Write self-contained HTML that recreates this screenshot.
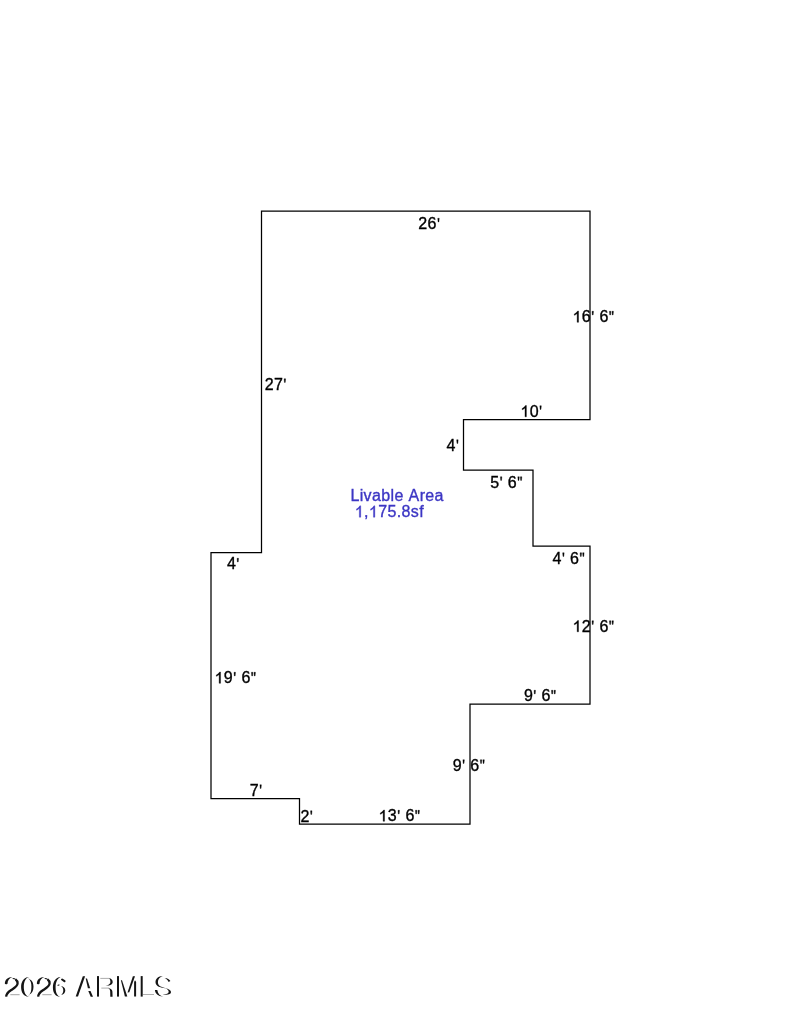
<!DOCTYPE html>
<html><head><meta charset="utf-8"><style>
html,body{margin:0;padding:0;background:#fff;}
svg{display:block;filter:brightness(1);}
text{font-family:"Liberation Sans",sans-serif;}
</style></head><body>
<svg width="800" height="1034" viewBox="0 0 800 1034">
<rect width="800" height="1034" fill="#fff"/>
<polygon points="261.5,211 590,211 590,419.5 463.5,419.5 463.5,470 533,470 533,546 590,546 590,704 470,704 470,824 299.5,824 299.5,798.5 211,798.5 211,552.5 261.5,552.5" fill="none" stroke="#000" stroke-width="1.25"/>
<g fill="#000" stroke="#000" stroke-width="0.35"><text x="418.35 427.62" y="229.30" font-size="16">26</text><path transform="translate(436.902 229.300) scale(0.007812 -0.007812)" d="M110 1409L300 1409L255 946L150 946Z" stroke-width="44.8"/></g>
<g fill="#000" stroke="#000" stroke-width="0.35"><text x="581.87 599.41" y="322.30" font-size="16">66</text><path transform="translate(572.589 322.300) scale(0.007812 -0.007812)" d="M763 0L583 0L583 1130C540 1080 482 1023 411 984C340 944 276 914 219 894L219 1061C320 1106 408 1161 483 1245C558 1320 611 1400 642 1450L763 1450Z" stroke-width="44.8"/><path transform="translate(591.146 322.300) scale(0.007812 -0.007812)" d="M110 1409L300 1409L255 946L150 946Z" stroke-width="44.8"/><path transform="translate(608.684 322.300) scale(0.007812 -0.007812)" d="M95 1409L285 1409L240 946L135 946ZM420 1409L610 1409L565 946L460 946Z" stroke-width="44.8"/></g>
<g fill="#000" stroke="#000" stroke-width="0.35"><text x="264.70 273.97" y="389.80" font-size="16">27</text><path transform="translate(283.252 389.800) scale(0.007812 -0.007812)" d="M110 1409L300 1409L255 946L150 946Z" stroke-width="44.8"/></g>
<g fill="#000" stroke="#000" stroke-width="0.35"><text x="529.72" y="416.80" font-size="16">0</text><path transform="translate(520.439 416.800) scale(0.007812 -0.007812)" d="M763 0L583 0L583 1130C540 1080 482 1023 411 984C340 944 276 914 219 894L219 1061C320 1106 408 1161 483 1245C558 1320 611 1400 642 1450L763 1450Z" stroke-width="44.8"/><path transform="translate(538.996 416.800) scale(0.007812 -0.007812)" d="M110 1409L300 1409L255 946L150 946Z" stroke-width="44.8"/></g>
<g fill="#000" stroke="#000" stroke-width="0.35"><text x="446.53" y="450.80" font-size="16">4</text><path transform="translate(455.811 450.800) scale(0.007812 -0.007812)" d="M110 1409L300 1409L255 946L150 946Z" stroke-width="44.8"/></g>
<g fill="#000" stroke="#000" stroke-width="0.35"><text x="490.26 507.80" y="487.80" font-size="16">56</text><path transform="translate(499.538 487.800) scale(0.007812 -0.007812)" d="M110 1409L300 1409L255 946L150 946Z" stroke-width="44.8"/><path transform="translate(517.076 487.800) scale(0.007812 -0.007812)" d="M95 1409L285 1409L240 946L135 946ZM420 1409L610 1409L565 946L460 946Z" stroke-width="44.8"/></g>
<g fill="#3c36c4" stroke="#3c36c4" stroke-width="0.35"><text x="350.39 359.67 363.60 371.98 381.26 390.54 394.47 408.58 419.63 425.34 434.61" y="500.70" font-size="16">LivableArea</text></g>
<g fill="#3c36c4" stroke="#3c36c4" stroke-width="0.35"><text x="364.07 378.17 387.45 396.73 401.55 410.83 419.21" y="517.20" font-size="16">,75.8sf</text><path transform="translate(354.789 517.200) scale(0.007812 -0.007812)" d="M763 0L583 0L583 1130C540 1080 482 1023 411 984C340 944 276 914 219 894L219 1061C320 1106 408 1161 483 1245C558 1320 611 1400 642 1450L763 1450Z" stroke-width="44.8"/><path transform="translate(368.893 517.200) scale(0.007812 -0.007812)" d="M763 0L583 0L583 1130C540 1080 482 1023 411 984C340 944 276 914 219 894L219 1061C320 1106 408 1161 483 1245C558 1320 611 1400 642 1450L763 1450Z" stroke-width="44.8"/></g>
<g fill="#000" stroke="#000" stroke-width="0.35"><text x="226.93" y="569.30" font-size="16">4</text><path transform="translate(236.211 569.300) scale(0.007812 -0.007812)" d="M110 1409L300 1409L255 946L150 946Z" stroke-width="44.8"/></g>
<g fill="#000" stroke="#000" stroke-width="0.35"><text x="552.53 570.07" y="563.80" font-size="16">46</text><path transform="translate(561.811 563.800) scale(0.007812 -0.007812)" d="M110 1409L300 1409L255 946L150 946Z" stroke-width="44.8"/><path transform="translate(579.350 563.800) scale(0.007812 -0.007812)" d="M95 1409L285 1409L240 946L135 946ZM420 1409L610 1409L565 946L460 946Z" stroke-width="44.8"/></g>
<g fill="#000" stroke="#000" stroke-width="0.35"><text x="581.87 599.41" y="631.80" font-size="16">26</text><path transform="translate(572.589 631.800) scale(0.007812 -0.007812)" d="M763 0L583 0L583 1130C540 1080 482 1023 411 984C340 944 276 914 219 894L219 1061C320 1106 408 1161 483 1245C558 1320 611 1400 642 1450L763 1450Z" stroke-width="44.8"/><path transform="translate(591.146 631.800) scale(0.007812 -0.007812)" d="M110 1409L300 1409L255 946L150 946Z" stroke-width="44.8"/><path transform="translate(608.684 631.800) scale(0.007812 -0.007812)" d="M95 1409L285 1409L240 946L135 946ZM420 1409L610 1409L565 946L460 946Z" stroke-width="44.8"/></g>
<g fill="#000" stroke="#000" stroke-width="0.35"><text x="223.87 241.41" y="683.30" font-size="16">96</text><path transform="translate(214.589 683.300) scale(0.007812 -0.007812)" d="M763 0L583 0L583 1130C540 1080 482 1023 411 984C340 944 276 914 219 894L219 1061C320 1106 408 1161 483 1245C558 1320 611 1400 642 1450L763 1450Z" stroke-width="44.8"/><path transform="translate(233.146 683.300) scale(0.007812 -0.007812)" d="M110 1409L300 1409L255 946L150 946Z" stroke-width="44.8"/><path transform="translate(250.684 683.300) scale(0.007812 -0.007812)" d="M95 1409L285 1409L240 946L135 946ZM420 1409L610 1409L565 946L460 946Z" stroke-width="44.8"/></g>
<g fill="#000" stroke="#000" stroke-width="0.35"><text x="523.90 541.44" y="701.30" font-size="16">96</text><path transform="translate(533.178 701.300) scale(0.007812 -0.007812)" d="M110 1409L300 1409L255 946L150 946Z" stroke-width="44.8"/><path transform="translate(550.717 701.300) scale(0.007812 -0.007812)" d="M95 1409L285 1409L240 946L135 946ZM420 1409L610 1409L565 946L460 946Z" stroke-width="44.8"/></g>
<g fill="#000" stroke="#000" stroke-width="0.35"><text x="452.75 470.29" y="770.80" font-size="16">96</text><path transform="translate(462.028 770.800) scale(0.007812 -0.007812)" d="M110 1409L300 1409L255 946L150 946Z" stroke-width="44.8"/><path transform="translate(479.567 770.800) scale(0.007812 -0.007812)" d="M95 1409L285 1409L240 946L135 946ZM420 1409L610 1409L565 946L460 946Z" stroke-width="44.8"/></g>
<g fill="#000" stroke="#000" stroke-width="0.35"><text x="249.78" y="795.80" font-size="16">7</text><path transform="translate(259.058 795.800) scale(0.007812 -0.007812)" d="M110 1409L300 1409L255 946L150 946Z" stroke-width="44.8"/></g>
<g fill="#000" stroke="#000" stroke-width="0.35"><text x="300.40" y="821.80" font-size="16">2</text><path transform="translate(309.674 821.800) scale(0.007812 -0.007812)" d="M110 1409L300 1409L255 946L150 946Z" stroke-width="44.8"/></g>
<g fill="#000" stroke="#000" stroke-width="0.35"><text x="387.87 405.41" y="821.30" font-size="16">36</text><path transform="translate(378.589 821.300) scale(0.007812 -0.007812)" d="M763 0L583 0L583 1130C540 1080 482 1023 411 984C340 944 276 914 219 894L219 1061C320 1106 408 1161 483 1245C558 1320 611 1400 642 1450L763 1450Z" stroke-width="44.8"/><path transform="translate(397.146 821.300) scale(0.007812 -0.007812)" d="M110 1409L300 1409L255 946L150 946Z" stroke-width="44.8"/><path transform="translate(414.684 821.300) scale(0.007812 -0.007812)" d="M95 1409L285 1409L240 946L135 946ZM420 1409L610 1409L565 946L460 946Z" stroke-width="44.8"/></g>
<g id="wm">
<g id="two">
<path d="M4.9,984.1 C4.6,980 7.6,977.2 12.5,977.1 C9.4,978.1 7.5,980.6 7.5,983.7 C6.8,984.3 5.6,984.4 4.9,984.1 Z" fill="#151515"/>
<path d="M12.7,978.5 C14,978.5 15.2,979 16,979.6" stroke="#151515" stroke-width="1.1" fill="none"/>
<path d="M15.6,979.5 C17,980.5 17.6,981.8 17.6,983.3 C17.6,986.5 14.2,988.2 10.9,990.2 C8.1,992 6.4,994 6.1,996.6" stroke="#151515" stroke-width="2.3" fill="none"/>
<path d="M10.3,994.7 L19.6,994.7" stroke="#666" stroke-width="0.6" fill="none"/>
</g>
<use href="#two" x="32" y="0"/>
<path d="M28.8,977.1 C23.6,977.5 21.1,982 21.1,987 C21.1,992.5 23.6,996.4 28.6,996.8 C25.6,995.9 23.8,992 23.8,987 C23.8,982 25.6,978.1 28.8,977.1 Z" fill="#151515"/>
<path d="M28.8,979.1 C32,979.9 33.5,983 33.5,986.8 C33.5,990.5 32,993.7 29.2,994.7 C30.9,993.2 31.4,990.2 31.4,986.8 C31.4,983.5 30.8,980.9 28.8,979.1 Z" fill="#151515"/>
<path d="M28.6,977.3 L28.9,979.1 M28.6,996.6 L29.2,994.6" stroke="#aaa" stroke-width="0.5" fill="none"/>
<path d="M60.6,977.1 C55.5,977.5 52.9,982 52.9,987.5 C52.9,993 55.5,996.5 60.1,996.8 C57.2,995.8 55.6,992.5 55.6,987.5 C55.6,982.5 57.3,978.5 60.6,977.1 Z" fill="#151515"/>
<path d="M62.1,979.5 L64.5,981.2" stroke="#151515" stroke-width="2.1" stroke-linecap="round" fill="none"/>
<path d="M60.8,986.1 C63.6,986.5 65.3,988.3 65.3,990.4 C65.3,992.6 63.6,994.4 60.9,995.0 C62.5,993.8 63.3,992.3 63.3,990.4 C63.3,988.6 62.5,987.1 60.8,986.1 Z" fill="#151515"/>
<path d="M57.6,985.6 L59.4,984.8" stroke="#222" stroke-width="1.1" fill="none"/>
</g>
<g fill="#151515" stroke="none">
<polygon points="82.8,976.2 85.1,976.2 78,996.6 75.7,996.6"/>
<polygon points="85.7,978.6 87.0,978.6 90.2,988.3 87.9,988.3"/>
<polygon points="88.3,991.0 90.5,991.0 93.0,996.7 90.7,996.7"/>
<rect x="97" y="976.1" width="2" height="20.5"/>
<rect x="117" y="976.1" width="2" height="20.5"/>
<polygon points="120.9,980.3 122.0,980.3 127.3,996.6 124.9,996.6"/>
<polygon points="132.9,976.2 135.0,976.2 129.3,992.3 127.5,992.6"/>
<polygon points="134.6,980.8 135.6,980.8 136.1,982.5 136.1,996.6 134.1,996.6 134.1,982.5"/>
<rect x="140.7" y="976.1" width="2" height="20.5"/>
</g>
<g fill="#151515" stroke="none">
<path d="M108.8,978.1 C111.3,978.6 112.7,980.1 112.7,982.0 C112.7,984.2 110.5,985.7 105.6,985.9 C108.9,985.1 110.4,983.8 110.4,982.0 C110.4,980.3 109.9,979 108.8,978.1 Z"/>
<path d="M108.2,987.9 C110.7,988.2 112.3,989.6 112.4,991.6 L112.6,996.7 L110.3,996.7 L110.2,991.8 C110.1,989.8 109.6,988.7 108.2,987.9 Z"/>
<path d="M162.8,976.1 C158.4,976.3 155.5,978.8 155.5,982.0 C155.5,985 157.8,986.6 161.2,987.4 L166.4,988.6 L160.6,986.5 C158.9,985.6 157.9,984 157.9,982 C157.9,979.2 159.8,977 162.8,976.1 Z"/>
<path d="M164.6,978.0 C167.4,978.2 169.6,979.4 170.4,981.1 L168.6,982.1 C167.9,980.3 166.7,979 164.6,978.0 Z"/>
<path d="M165.0,987.9 C168.7,988.6 171.0,990.2 171.0,992.1 C171.0,994.2 168.4,995.4 162.6,994.6 C166.5,994.4 168.7,993.5 168.7,991.8 C168.7,990.2 167.3,988.9 165.0,987.9 Z"/>
<path d="M154.9,990.1 C155.2,993.5 158.0,996.4 163.3,996.7 C159.8,995.9 157.9,993.8 157.3,990.1 Z"/>
</g>
<g fill="none">
<path d="M100.3,978.4 L109.2,978.4 M101.3,988.1 L109,988.1" stroke="#888" stroke-width="0.7"/>
<path d="M143,994.5 L154,994.5" stroke="#777" stroke-width="0.6"/>
</g>

</svg>
</body></html>
